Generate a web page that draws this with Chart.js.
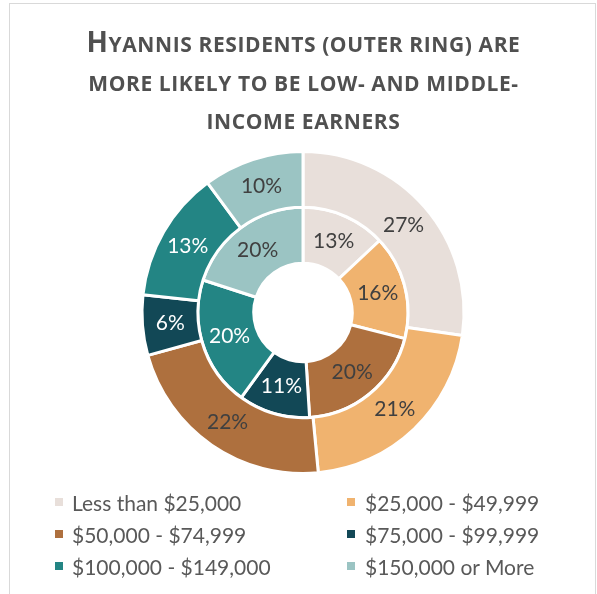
<!DOCTYPE html>
<html>
<head>
<meta charset="utf-8">
<script src="https://cdn.jsdelivr.net/npm/chart.js@4/dist/chart.umd.min.js"></script>
<style>
  body { margin: 0; background: #fff; }
  #wrap { position: relative; width: 597px; height: 594px; overflow: hidden; font-family: Lato, "Open Sans", sans-serif; }
  #frame { position: absolute; left: 9px; top: 3px; width: 585px; height: 620px; border: 1px solid #d9d9d9; }
  #title { position: absolute; left: 9px; top: 22px; width: 589px; text-align: center; font-family: "Open Sans", sans-serif;
           font-size: 21px; letter-spacing: 0.6px; font-weight: bold; text-transform: uppercase; line-height: 38.5px; color: #505050; }
  #title .big { font-size: 28px; }
  #chart { position: absolute; left: 0; top: 0; }
  .lg-box { position: absolute; width: 8px; height: 8px; }
  .lg-text { position: absolute; font-size: 21px; line-height: 25px; color: #595959; white-space: nowrap; }
</style>
</head>
<body>
<div id="wrap">
  <div id="frame"></div>
  <canvas id="chart" width="597" height="594"></canvas>
  <div id="title"><span class="big">H</span>yannis residents (outer ring) are<br>more likely to be low- and middle-<br>income earners</div>
  <div id="legend"></div>
</div>
<script>
const categories = ["Less than $25,000", "$25,000 - $49,999", "$50,000 - $74,999", "$75,000 - $99,999", "$100,000 - $149,000", "$150,000 or More"];
const hyannis = [27, 21, 22, 6, 13, 10];   // outer ring
const inner = [13, 16, 20, 11, 20, 20];    // inner ring
const colors = ["#E8DFDA", "#F0B36F", "#AE703E", "#124856", "#238584", "#9BC4C3"];
const outerLabelColors = ["#404040", "#404040", "#404040", "#ffffff", "#ffffff", "#404040"];
const innerLabelColors = ["#404040", "#404040", "#404040", "#ffffff", "#ffffff", "#404040"];

// percent labels on every slice
const sliceLabels = {
    id: 'sliceLabels',
    afterDatasetsDraw(chart) {
        const ctx = chart.ctx;
        ctx.save();
        ctx.font = '21px Lato';
        ctx.textAlign = 'center';
        ctx.textBaseline = 'middle';
        chart.data.datasets.forEach((ds, i) => {
            const meta = chart.getDatasetMeta(i);
            meta.data.forEach((arc, k) => {
                const p = arc.tooltipPosition();
                ctx.fillStyle = ds.labelColors[k];
                ctx.fillText(ds.data[k] + '%', p.x, p.y);
            });
        });
        ctx.restore();
    }
};

new Chart(document.getElementById('chart'), {
    type: 'doughnut',
    data: {
        labels: categories,
        datasets: [
            { label: 'Hyannis', data: hyannis, backgroundColor: colors, borderColor: '#fff', borderWidth: 3, labelColors: outerLabelColors },
            { label: 'Comparison', data: inner, backgroundColor: colors, borderColor: '#fff', borderWidth: 3, labelColors: innerLabelColors }
        ]
    },
    options: {
        responsive: false,
        animation: false,
        radius: 161,
        cutout: '30.6%',
        layout: { padding: { left: 9, top: 31 } },
        plugins: {
            legend: { display: false },
            tooltip: { enabled: false }
        }
    },
    plugins: [sliceLabels]
});

// legend, two columns
const legend = document.getElementById('legend');
const colX = [55, 347];
const textX = [72, 365];
const rowY = [498, 530, 562];
categories.forEach((name, i) => {
    const col = i % 2, row = Math.floor(i / 2);
    const box = document.createElement('div');
    box.className = 'lg-box';
    box.style.left = colX[col] + 'px';
    box.style.top = rowY[row] + 'px';
    box.style.background = colors[i];
    legend.appendChild(box);
    const txt = document.createElement('div');
    txt.className = 'lg-text';
    txt.style.left = textX[col] + 'px';
    txt.style.top = (rowY[row] - 8) + 'px';
    txt.textContent = name;
    legend.appendChild(txt);
});
</script>
</body>
</html>
